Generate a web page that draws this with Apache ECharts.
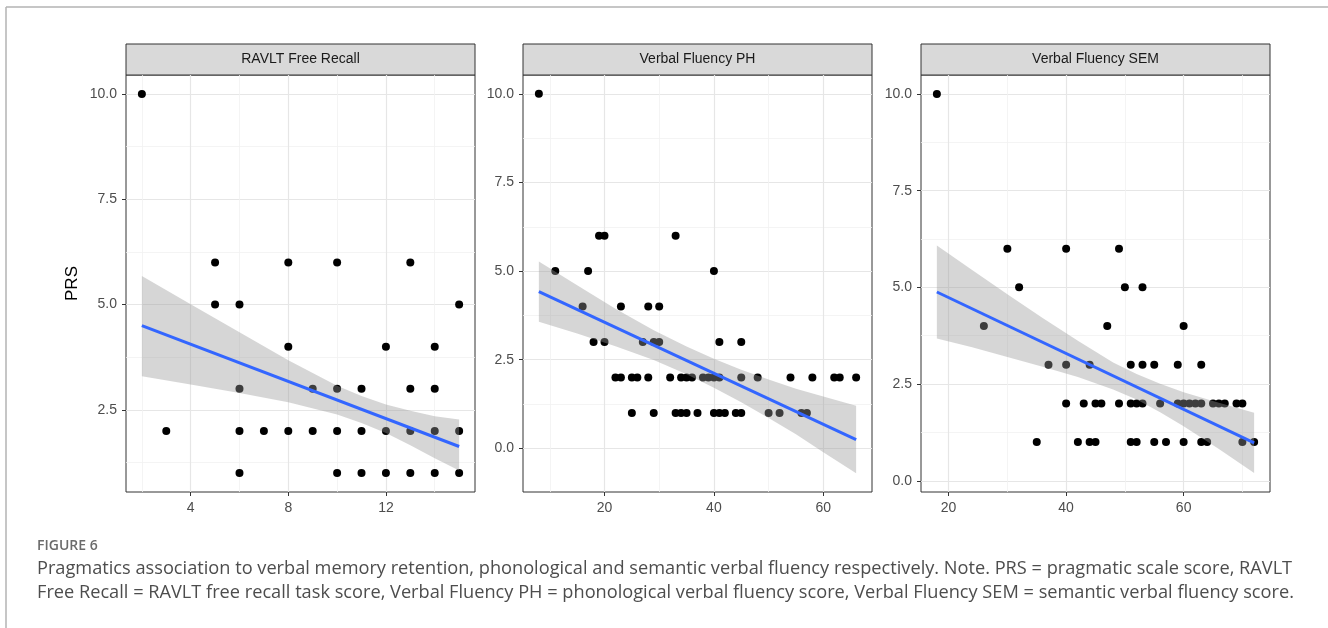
<!DOCTYPE html>
<html>
<head>
<meta charset="utf-8">
<title>Figure 6</title>
<script src="https://cdn.jsdelivr.net/npm/echarts@6/dist/echarts.min.js"></script>
<style>
  html, body { margin: 0; padding: 0; background: #fff; }
  #chart { width: 1328px; height: 628px; }
</style>
</head>
<body>
<div id="chart"></div>
<script>
// facet titles
const panelTitles = ['RAVLT Free Recall', 'Verbal Fluency PH', 'Verbal Fluency SEM'];

// RAVLT Free Recall vs PRS
const ravltX = [2, 3, 5, 5, 6, 6, 6, 6, 7, 8, 8, 8, 9, 9, 10, 10, 10, 10, 11, 11, 11, 12, 12, 12, 13, 13, 13, 13, 14, 14, 14, 14, 15, 15, 15];
const ravltY = [10, 2, 6, 5, 5, 3, 2, 1, 2, 6, 4, 2, 3, 2, 6, 3, 2, 1, 3, 2, 1, 4, 2, 1, 6, 3, 2, 1, 4, 3, 2, 1, 5, 2, 1];
const ravltFitX = [2, 15];
const ravltFitY = [4.5, 1.63];
const ravltBandX = [2, 4, 6, 8, 10, 11, 12, 13, 14, 15];
const ravltBandLo = [3.30, 3.10, 2.90, 2.68, 2.39, 2.19, 1.95, 1.66, 1.35, 1.06];
const ravltBandHi = [5.68, 5.01, 4.34, 3.68, 3.07, 2.83, 2.63, 2.48, 2.35, 2.27];

// Verbal Fluency PH vs PRS
const phX = [8, 19, 20, 33, 11, 17, 40, 16, 23, 28, 30, 18, 20, 27, 29, 30, 41, 45,
  22, 23, 25, 26, 28, 32, 34, 35, 36, 38, 39, 40, 41, 45, 48, 54, 58, 62, 63, 66,
  25, 29, 33, 34, 35, 37, 40, 41, 42, 44, 45, 50, 52, 56, 57];
const phY = [10, 6, 6, 6, 5, 5, 5, 4, 4, 4, 4, 3, 3, 3, 3, 3, 3, 3,
  2, 2, 2, 2, 2, 2, 2, 2, 2, 2, 2, 2, 2, 2, 2, 2, 2, 2, 2, 2,
  1, 1, 1, 1, 1, 1, 1, 1, 1, 1, 1, 1, 1, 1, 1];
const phFitX = [8, 66];
const phFitY = [4.42, 0.25];
const phBandX = [8, 15, 22, 29, 35, 40, 45, 50, 55, 60, 66];
const phBandLo = [3.57, 3.24, 2.88, 2.49, 2.09, 1.71, 1.30, 0.86, 0.40, -0.11, -0.70];
const phBandHi = [5.27, 4.60, 3.94, 3.33, 2.87, 2.53, 2.22, 1.94, 1.68, 1.46, 1.20];

// Verbal Fluency SEM vs PRS
const semX = [18, 30, 40, 49, 32, 50, 53, 26, 47, 60,
  37, 40, 44, 51, 53, 55, 59, 63,
  40, 43, 45, 46, 49, 51, 52, 53, 56, 59, 60, 61, 62, 63, 65, 66, 67, 69, 70,
  35, 42, 44, 45, 51, 52, 55, 57, 60, 63, 64, 70, 72];
const semY = [10, 6, 6, 6, 5, 5, 5, 4, 4, 4,
  3, 3, 3, 3, 3, 3, 3, 3,
  2, 2, 2, 2, 2, 2, 2, 2, 2, 2, 2, 2, 2, 2, 2, 2, 2, 2, 2,
  1, 1, 1, 1, 1, 1, 1, 1, 1, 1, 1, 1, 1];
const semFitX = [18, 72];
const semFitY = [4.88, 0.98];
const semBandX = [18, 24, 30, 36, 42, 48, 52, 56, 60, 66, 72];
const semBandLo = [3.68, 3.45, 3.20, 2.95, 2.68, 2.36, 2.10, 1.77, 1.41, 0.82, 0.20];
const semBandHi = [6.08, 5.45, 4.82, 4.21, 3.62, 3.06, 2.76, 2.51, 2.29, 2.02, 1.76];

// tick labels
const ravltXTicks = [4, 8, 12];
const ravltXMinor = [2, 6, 10, 14];
const fluencyXTicks = [20, 40, 60];
const phXMinor = [10, 30, 50];
const semXMinor = [30, 50, 70];
const ravltYTicks = [2.5, 5, 7.5, 10];
const fluencyYTicks = [0, 2.5, 5, 7.5, 10];
const yMinor = [1.25, 3.75, 6.25, 8.75];

const panels = [
  { left: 126, xs: ravltX, ys: ravltY, fitX: ravltFitX, fitY: ravltFitY,
    bandX: ravltBandX, bandLo: ravltBandLo, bandHi: ravltBandHi,
    xRange: [1.35, 15.65], yRange: [0.55, 10.45],
    xTicks: ravltXTicks, xMinor: ravltXMinor, yTicks: ravltYTicks },
  { left: 523, xs: phX, ys: phY, fitX: phFitX, fitY: phFitY,
    bandX: phBandX, bandLo: phBandLo, bandHi: phBandHi,
    xRange: [5.1, 68.9], yRange: [-1.23, 10.53],
    xTicks: fluencyXTicks, xMinor: phXMinor, yTicks: fluencyYTicks },
  { left: 921, xs: semX, ys: semY, fitX: semFitX, fitY: semFitY,
    bandX: semBandX, bandLo: semBandLo, bandHi: semBandHi,
    xRange: [15.3, 74.7], yRange: [-0.29, 10.49],
    xTicks: fluencyXTicks, xMinor: semXMinor, yTicks: fluencyYTicks },
];

const PANEL_W = 349;
const PANEL_TOP = 75;
const PANEL_BOTTOM = 492;
const STRIP_TOP = 44;
const FONT = 'Liberation Sans, Arial, Helvetica, sans-serif';
const CAPTION_FONT = '"Open Sans", Lato, sans-serif';

const majorLine = { show: true, lineStyle: { color: '#e6e6e6', width: 1.2 } };
const minorLine = { show: true, lineStyle: { color: '#f1f1f1', width: 0.8 } };

const grids = [];
const xAxes = [];
const yAxes = [];
const series = [];
const graphics = [];

panels.forEach((p, i) => {
  grids.push({
    left: p.left, width: PANEL_W, top: PANEL_TOP, height: PANEL_BOTTOM - PANEL_TOP,
    show: true, borderColor: '#333333', borderWidth: 1, backgroundColor: '#ffffff',
  });

  // major axes with labels
  xAxes.push({
    type: 'value', gridIndex: i, min: p.xRange[0], max: p.xRange[1], position: 'bottom',
    axisLine: { show: false, onZero: false },
    axisTick: { show: true, length: 4, customValues: p.xTicks, lineStyle: { color: '#333333' } },
    axisLabel: { customValues: p.xTicks, margin: 9, color: '#4d4d4d', fontSize: 14, fontFamily: FONT },
    splitLine: majorLine,
  });
  yAxes.push({
    type: 'value', gridIndex: i, min: p.yRange[0], max: p.yRange[1], position: 'left',
    axisLine: { show: false, onZero: false },
    axisTick: { show: true, length: 4, customValues: p.yTicks, lineStyle: { color: '#333333' } },
    axisLabel: { customValues: p.yTicks, margin: 9, color: '#4d4d4d', fontSize: 14, fontFamily: FONT,
      formatter: (v) => v.toFixed(1) },
    splitLine: majorLine,
  });

  // strip header
  graphics.push({
    type: 'rect', shape: { x: p.left, y: STRIP_TOP, width: PANEL_W, height: PANEL_TOP - STRIP_TOP },
    style: { fill: '#d9d9d9', stroke: '#333333', lineWidth: 1 },
  });
  graphics.push({
    type: 'text', x: p.left + PANEL_W / 2, y: (STRIP_TOP + PANEL_TOP) / 2,
    style: { text: panelTitles[i], fill: '#1a1a1a', font: '14px ' + FONT, align: 'center', verticalAlign: 'middle' },
  });
});

// minor grid axes (no labels), indices 3..5
panels.forEach((p, i) => {
  xAxes.push({
    type: 'value', gridIndex: i, min: p.xRange[0], max: p.xRange[1],
    axisLine: { show: false, onZero: false },
    axisTick: { show: false, customValues: p.xMinor },
    axisLabel: { show: false, customValues: p.xMinor },
    splitLine: minorLine,
  });
  yAxes.push({
    type: 'value', gridIndex: i, min: p.yRange[0], max: p.yRange[1],
    axisLine: { show: false, onZero: false },
    axisTick: { show: false, customValues: yMinor },
    axisLabel: { show: false, customValues: yMinor },
    splitLine: minorLine,
  });
});

panels.forEach((p, i) => {
  series.push({
    type: 'scatter', xAxisIndex: i, yAxisIndex: i,
    data: p.xs.map((x, k) => [x, p.ys[k]]),
    symbolSize: 8, itemStyle: { color: '#000000', opacity: 1 },
    silent: true, z: 2,
  });
  series.push({
    type: 'custom', xAxisIndex: i, yAxisIndex: i,
    data: [[p.bandX[0], p.bandLo[0]]],
    silent: true, z: 3,
    renderItem: (params, api) => {
      const upper = p.bandX.map((x, k) => api.coord([x, p.bandHi[k]]));
      const lower = p.bandX.map((x, k) => api.coord([x, p.bandLo[k]])).reverse();
      return {
        type: 'polygon',
        shape: { points: upper.concat(lower), smooth: 0 },
        style: { fill: 'rgba(153,153,153,0.4)', stroke: null },
      };
    },
  });
  series.push({
    type: 'line', xAxisIndex: i, yAxisIndex: i,
    data: p.fitX.map((x, k) => [x, p.fitY[k]]),
    showSymbol: false, silent: true, z: 4,
    lineStyle: { color: '#3366ff', width: 3 },
  });
});

// figure frame, axis title and caption
graphics.push(
  { type: 'line', shape: { x1: 6, y1: 7, x2: 1328, y2: 7 }, style: { stroke: '#b3b3b3', lineWidth: 1.5 } },
  { type: 'line', shape: { x1: 6, y1: 7, x2: 6, y2: 628 }, style: { stroke: '#b3b3b3', lineWidth: 1.5 } },
  {
    type: 'text', x: 72, y: (PANEL_TOP + PANEL_BOTTOM) / 2, rotation: Math.PI / 2,
    style: { text: 'PRS', fill: '#000000', font: '17px ' + FONT, align: 'center', verticalAlign: 'middle' },
  },
  {
    type: 'text', x: 37, y: 546,
    style: { text: 'FIGURE 6', fill: '#6b6b6b', font: '600 14px ' + CAPTION_FONT, verticalAlign: 'middle' },
  },
  {
    type: 'text', x: 37, y: 569,
    style: {
      text: 'Pragmatics association to verbal memory retention, phonological and semantic verbal fluency respectively. Note. PRS = pragmatic scale score, RAVLT',
      fill: '#4d4d4d', font: '18.2px ' + CAPTION_FONT, verticalAlign: 'middle',
    },
  },
  {
    type: 'text', x: 37, y: 593,
    style: {
      text: 'Free Recall = RAVLT free recall task score, Verbal Fluency PH = phonological verbal fluency score, Verbal Fluency SEM = semantic verbal fluency score.',
      fill: '#4d4d4d', font: '18.2px ' + CAPTION_FONT, verticalAlign: 'middle',
    },
  },
);

const chart = echarts.init(document.getElementById('chart'), null, { renderer: 'canvas' });
chart.setOption({
  animation: false,
  backgroundColor: '#ffffff',
  grid: grids,
  xAxis: xAxes,
  yAxis: yAxes,
  series: series,
  graphic: graphics,
});
</script>
</body>
</html>
